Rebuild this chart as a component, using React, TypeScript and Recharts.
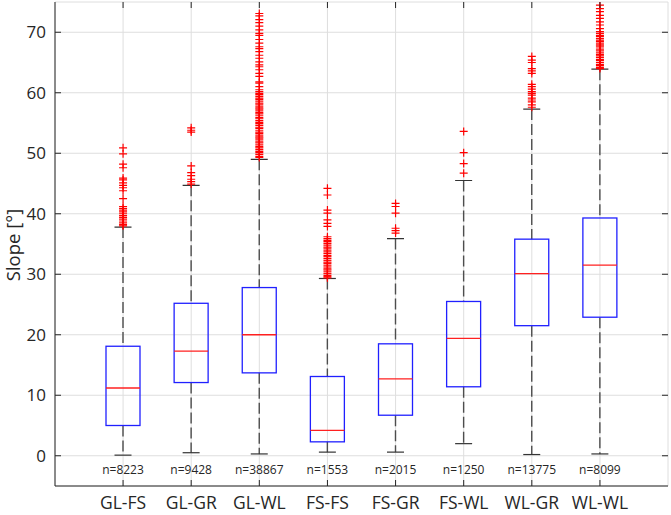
import { ComposedChart, Bar, Scatter, XAxis, YAxis, CartesianGrid } from "recharts";

// categories and box statistics (slope in degrees)
const categories = ["GL-FS", "GL-GR", "GL-WL", "FS-FS", "FS-GR", "FS-WL", "WL-GR", "WL-WL"];
const lowerWhisker = [0.1, 0.5, 0.3, 0.6, 0.6, 2.0, 0.2, 0.3];
const q1s = [5.0, 12.1, 13.7, 2.3, 6.7, 11.4, 21.5, 22.9];
const medians = [11.2, 17.3, 20.0, 4.2, 12.7, 19.4, 30.1, 31.5];
const q3s = [18.1, 25.2, 27.8, 13.1, 18.5, 25.5, 35.8, 39.3];
const upperWhisker = [37.8, 44.7, 49.0, 29.3, 35.9, 45.5, 57.3, 63.9];
const counts = [8223, 9428, 38867, 1553, 2015, 1250, 13775, 8099];

// outliers
const outGLFS = [50.9, 49.9, 48.2, 47.6, 45.9, 45.6, 45.1, 44.7, 44.3, 43.8, 42.5, 41.2, 40.9, 40.6, 40.3, 40.0, 39.7, 39.4, 39.1, 38.8, 38.5, 38.2, 38.0];
const outGLGR = [54.2, 53.8, 53.5, 47.9, 46.8, 46.3, 45.7, 45.3, 44.9];
const outGLWL = [
  73.1, 72.7, 72.1, 71.6, 71.0, 70.4, 69.8, 69.5, 68.8, 68.2, 67.6, 67.3, 66.8, 66.2, 65.7, 65.1, 64.6, 64.3,
  63.8, 63.2, 62.7, 61.8, 61.6, 61.0, 60.5, 60.2, 59.9, 59.7, 59.4, 59.1, 58.9, 58.6, 58.3, 58.1, 57.8, 57.5,
  57.3, 57.0, 56.7, 56.5, 56.2, 55.9, 55.7, 55.4, 55.1, 54.9, 54.6, 54.3, 54.1, 53.8, 53.5, 53.3, 53.0, 52.7,
  52.5, 52.2, 51.9, 51.7, 51.4, 51.1, 50.9, 50.6, 50.3, 50.1, 49.8, 49.5, 49.3,
];
const outFSFS = [
  44.2, 43.1, 40.6, 40.1, 39.0, 38.4, 37.9, 36.2, 35.9, 35.6, 35.4, 35.1, 34.8, 34.5, 34.3, 34.0, 33.7, 33.4,
  33.1, 32.9, 32.6, 32.3, 32.0, 31.8, 31.5, 31.2, 30.9, 30.7, 30.4, 30.1, 29.8, 29.6, 29.4,
];
const outFSGR = [41.7, 41.2, 40.1, 37.6, 37.2, 36.8];
const outFSWL = [53.6, 50.1, 48.3, 46.7];
const outWLGR = [66.0, 65.4, 65.0, 64.0, 63.6, 63.2, 61.4, 61.0, 60.6, 60.2, 59.9, 59.6, 59.1, 58.8, 58.5, 58.0, 57.6];
const outWLWL = [
  74.5, 73.9, 73.4, 72.8, 72.3, 71.7, 71.2, 70.6, 70.1, 69.8, 69.5, 69.3, 69.0, 68.7, 68.5, 68.2, 67.9, 67.7,
  67.4, 67.1, 66.9, 66.6, 66.3, 66.1, 65.8, 65.5, 65.3, 65.0, 64.7, 64.5, 64.2, 64.0,
];
const outlierLists = [outGLFS, outGLGR, outGLWL, outFSFS, outFSGR, outFSWL, outWLGR, outWLWL];

const yTicks = [0, 10, 20, 30, 40, 50, 60, 70];
const N_LABEL_AT = -2.4; // data value where the n= labels sit

const boxes = categories.map((cat, i) => ({
  cat,
  lo: lowerWhisker[i],
  q1: q1s[i],
  med: medians[i],
  q3: q3s[i],
  hi: upperWhisker[i],
  n: counts[i],
}));

const outlierPoints = categories.flatMap((cat, i) => outlierLists[i].map((v) => ({ cat, v })));

const W = 671;
const H = 515;
const LEFT = 55;
const RIGHT = 668;
const TOP = 2;
const BOTTOM = 486;
const AXIS = "#262626";
const FONT = "'Open Sans', sans-serif";

function BoxShape(props: any) {
  const { x = 0, y = 0, width = 0, height = 0, payload } = props;
  const d = payload;
  const top = Math.min(y, y + height);
  const bottom = Math.max(y, y + height);
  const py = (v: number) => bottom - ((v - d.lo) / (d.hi - d.lo)) * (bottom - top);
  const cx = x + width / 2;
  const cap = width / 4;
  return (
    <g>
      <line x1={cx} x2={cx} y1={py(d.hi)} y2={py(d.q3)} stroke="#4d4d4d" strokeWidth={1.4} strokeDasharray="11 4" />
      <line x1={cx} x2={cx} y1={py(d.q1)} y2={py(d.lo)} stroke="#4d4d4d" strokeWidth={1.4} strokeDasharray="11 4" />
      <line x1={cx - cap} x2={cx + cap} y1={py(d.hi)} y2={py(d.hi)} stroke="#333" strokeWidth={1.2} />
      <line x1={cx - cap} x2={cx + cap} y1={py(d.lo)} y2={py(d.lo)} stroke="#333" strokeWidth={1.2} />
      <rect x={x} y={py(d.q3)} width={width} height={py(d.q1) - py(d.q3)} fill="none" stroke="#2020ff" strokeWidth={1.3} />
      <line x1={x} x2={x + width} y1={py(d.med)} y2={py(d.med)} stroke="#ff2020" strokeWidth={1.3} />
      <text x={cx} y={py(N_LABEL_AT)} dy="0.35em" textAnchor="middle" fontSize={12} fill={AXIS} fontFamily={FONT}>
        n={d.n}
      </text>
    </g>
  );
}

function PlusShape(props: any) {
  const { cx = 0, cy = 0 } = props;
  return (
    <g>
      <line x1={cx - 4} x2={cx + 4} y1={cy} y2={cy} stroke="#ff0000" strokeWidth={1.2} />
      <line x1={cx} x2={cx} y1={cy - 4} y2={cy + 4} stroke="#ff0000" strokeWidth={1.2} />
    </g>
  );
}

function YTick(props: any) {
  const { y, payload } = props;
  return (
    <g>
      <text x={LEFT - 9} y={y} dy="0.36em" textAnchor="end" fontSize={17} fill={AXIS} fontFamily={FONT}>
        {payload.value}
      </text>
      <line x1={LEFT} x2={LEFT + 6} y1={y} y2={y} stroke={AXIS} />
      <line x1={RIGHT - 6} x2={RIGHT} y1={y} y2={y} stroke={AXIS} />
    </g>
  );
}

function XTick(props: any) {
  const { x, payload } = props;
  return (
    <g>
      <text x={x} y={BOTTOM + 23} textAnchor="middle" fontSize={17.5} fill={AXIS} fontFamily={FONT}>
        {payload.value}
      </text>
      <line x1={x} x2={x} y1={BOTTOM} y2={BOTTOM - 6} stroke={AXIS} />
      <line x1={x} x2={x} y1={TOP} y2={TOP + 6} stroke={AXIS} />
    </g>
  );
}

export default function App() {
  return (
    <div style={{ position: "absolute", left: 0, top: 0, width: W, height: H, background: "#fff", fontFamily: FONT }}>
      <ComposedChart
        width={W}
        height={H}
        data={boxes}
        margin={{ top: TOP, right: W - RIGHT, left: 0, bottom: 0 }}
      >
        <CartesianGrid stroke="#dedede" strokeWidth={1} />
        <XAxis
          dataKey="cat"
          type="category"
          allowDuplicatedCategory={false}
          padding={{ left: 34, right: 34 }}
          height={H - BOTTOM}
          tickLine={false}
          axisLine={{ stroke: AXIS }}
          tick={<XTick />}
          interval={0}
        />
        <XAxis
          xAxisId="top"
          dataKey="cat"
          orientation="top"
          allowDuplicatedCategory={false}
          padding={{ left: 34, right: 34 }}
          height={0}
          tick={false}
          tickLine={false}
          axisLine={{ stroke: AXIS }}
        />
        <YAxis
          type="number"
          domain={[-5, 75]}
          ticks={yTicks}
          allowDataOverflow
          width={LEFT}
          tickLine={false}
          axisLine={{ stroke: AXIS }}
          tick={<YTick />}
          interval={0}
          label={{
            content: () => (
              <text
                transform={`translate(20, 245) rotate(-90)`}
                textAnchor="middle"
                fontSize={18.5}
                fill={AXIS}
                fontFamily={FONT}
              >
                Slope [°]
              </text>
            ),
          }}
        />
        <YAxis
          yAxisId="right"
          orientation="right"
          type="number"
          domain={[-5, 75]}
          width={0}
          tick={false}
          tickLine={false}
          axisLine={{ stroke: AXIS }}
        />
        <Bar
          dataKey={(d: any) => [d.lo, d.hi]}
          barSize={34}
          shape={<BoxShape />}
          isAnimationActive={false}
        />
        <Scatter data={outlierPoints} dataKey="v" shape={<PlusShape />} isAnimationActive={false} />
      </ComposedChart>
    </div>
  );
}
